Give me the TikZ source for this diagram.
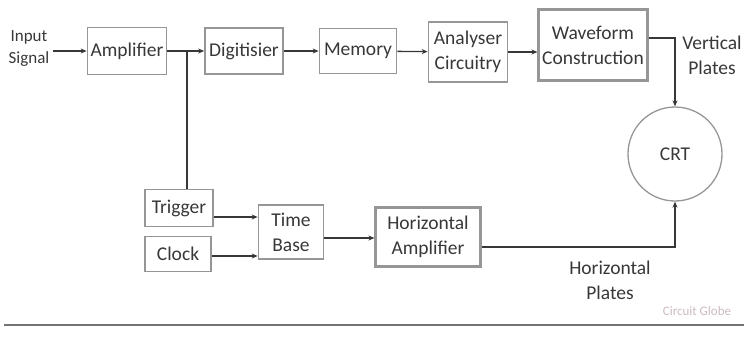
\documentclass[tikz,border=0pt]{standalone}
\usepackage{fontspec}
\setmainfont{Carlito}
\usetikzlibrary{arrows.meta}
\definecolor{linegray}{RGB}{55,55,55}
\definecolor{boxgray}{RGB}{150,150,150}
\definecolor{globe}{RGB}{205,185,195}

\begin{document}
\begin{tikzpicture}[x=1pt, y=-1pt, >={Stealth[length=6pt,width=5pt]},
  every node/.style={font=\fontsize{19.5}{25}\selectfont, text=black!78},
  blk/.style={draw=boxgray, line width=1.7pt, fill=white, align=center, inner sep=2pt},
  link/.style={draw=linegray, line width=1.3pt}]

\useasboundingbox (0,0) rectangle (747,338);

% ---------- upper chain ----------
\node[align=center, font=\fontsize{17}{22}\selectfont] (in) at (29,49) {Input\\Signal};
\node[blk, minimum width=79pt, minimum height=47pt] (amp)  at (127,51) {Amplifier};
\node[blk, minimum width=78pt, minimum height=46pt] (dig)  at (244,51) {Digitisier};
\node[blk, minimum width=77pt, minimum height=45pt] (mem)  at (358,51) {Memory};
\node[blk, minimum width=79pt, minimum height=60pt] (ana)  at (468,52) {Analyser\\Circuitry};
\node[blk, minimum width=109pt, minimum height=71pt, line width=2.1pt] (wave) at (593,45) {Waveform\\Construction};

% ---------- lower chain ----------
\node[blk, minimum width=68pt, minimum height=37pt] (trig) at (179,208) {Trigger};
\node[blk, minimum width=66pt, minimum height=35pt] (clk)  at (178,254) {Clock};
\node[blk, minimum width=65pt, minimum height=54pt] (tb)   at (291,232) {Time\\Base};
\node[blk, minimum width=105pt, minimum height=59pt, line width=2.1pt] (hamp) at (428,237) {Horizontal\\Amplifier};

% ---------- CRT ----------
\node[draw=boxgray, line width=1.3pt, circle, minimum size=94pt] (crt) at (675,154) {CRT};

\node[align=center] (vp) at (712,55) {Vertical\\Plates};
\node[align=center] (hp) at (610,280) {Horizontal\\Plates};
\node[font=\fontsize{13}{15}\selectfont, text=globe] (cg) at (697,311) {Circuit Globe};

% ---------- connectors ----------
\coordinate (br) at (187,51);
\draw[link,->] (in.east |- amp) -- (amp);
\draw[link] (amp) -- (br);
\draw[link,->] (br) -- (dig);
\draw[link] (br) -- (br |- trig.north);
\draw[link,->] (dig) -- (mem);
\draw[link,->] (mem) -- (ana);
\draw[link,->] (ana) -- (wave.west |- ana);

\draw[link,->] (wave.east |- 0,38) -| (crt.north);
\draw[link,->] (trig.east |- 0,217) -- (tb.west |- 0,217);
\draw[link,->] (clk.east |- 0,256) -- (tb.west |- 0,256);
\draw[link,->] (tb.east |- 0,238) -- (hamp.west |- 0,238);
\draw[link,->] (hamp.east |- 0,247) -| (crt.south);

% bottom rule
\draw[line width=2.4pt, draw=black!55] (4,325) -- (744,325);

\end{tikzpicture}
\end{document}
